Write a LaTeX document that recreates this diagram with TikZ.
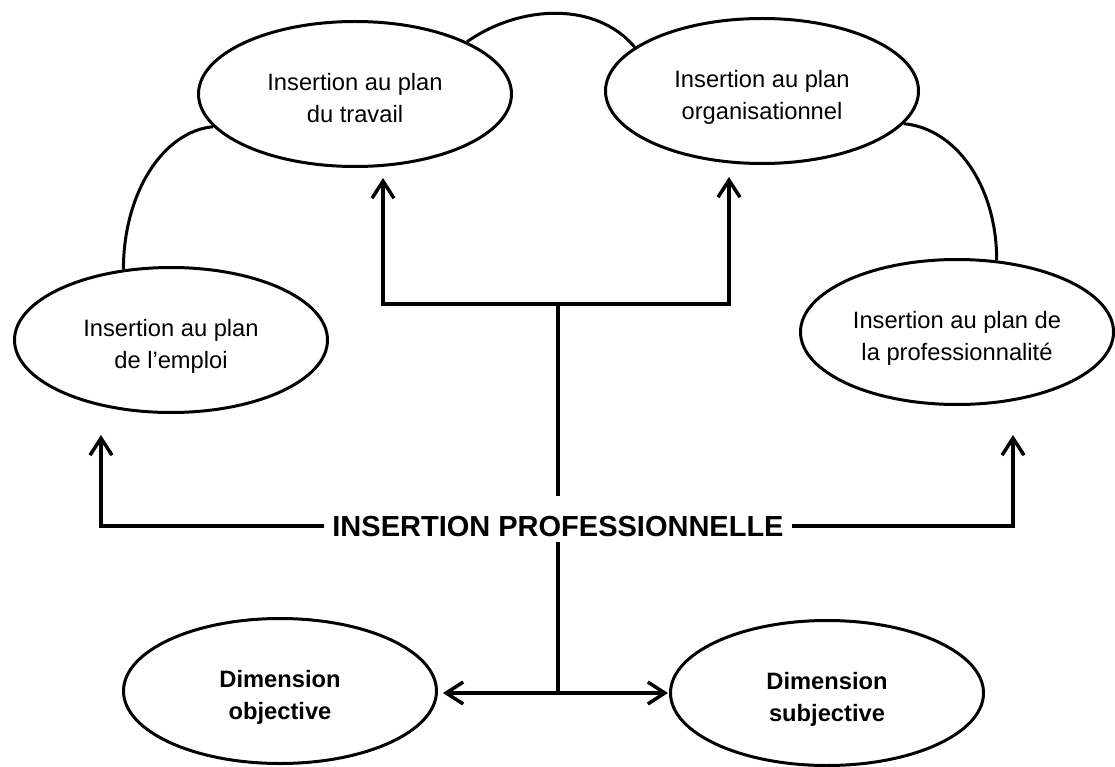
\documentclass[tikz,border=0pt]{standalone}
\usepackage{fontspec}
\setmainfont{Liberation Sans}
\usetikzlibrary{arrows.meta,shapes.geometric,calc}
\newcommand\ellTopStrut{\rule{0pt}{30pt}}
\newcommand\ellBotStrut{\rule[-5pt]{0pt}{5pt}}
\begin{document}
\begin{tikzpicture}[x=1pt,y=1pt,
  ell/.style={draw, line width=3pt, ellipse, minimum width=313pt, minimum height=145pt,
    inner sep=0pt, align=center, font=\fontsize{23.7}{32}\selectfont},
  bell/.style={ell, font=\fontsize{23.7}{32}\selectfont\bfseries},
  conn/.style={line width=3.8pt, line join=miter},
  arr/.style={conn, -{Straight Barb[length=17pt,width=22pt,line width=3.5pt]}},
  arcline/.style={line width=3pt}]
\useasboundingbox (0,0) rectangle (1115,-767);
\node[ell] (trav) at (355,-94) {\ellTopStrut Insertion au plan\\du travail\ellBotStrut};
\node[ell] (org) at (762,-91) {\ellTopStrut Insertion au plan\\organisationnel\ellBotStrut};
\node[ell] (emp) at (171,-340) {\ellTopStrut Insertion au plan\\de l’emploi\ellBotStrut};
\node[ell] (prof) at (957,-332) {\ellTopStrut Insertion au plan de\\la professionnalité\ellBotStrut};
\node[bell] (obj) at (280,-691) {\ellTopStrut Dimension\\objective\ellBotStrut};
\node[bell] (subj) at (827,-693) {\ellTopStrut Dimension\\subjective\ellBotStrut};
\node[font=\fontsize{29}{34}\selectfont\bfseries, inner xsep=8pt, inner ysep=6pt,
  text height=34pt, text depth=0pt] (main) at (558,-519) {INSERTION PROFESSIONNELLE};
% junctions and arrow tips
\coordinate (jT) at (558,-304);
\coordinate (tipT) at (383,-178);
\coordinate (tipO) at (729,-177);
\coordinate (tipE) at (101,-435);
\coordinate (tipP) at (1013,-435);
\coordinate (jB) at (558,-693);
\coordinate (tipOb) at ([xshift=5pt]obj.east |- jB);
\coordinate (tipSu) at ([xshift=-1pt]subj.west |- jB);
% connectors
\draw[arr] (main.north) -- (jT) -| (tipT);
\draw[arr] (jT) -| (tipO);
\draw[arr] ([yshift=-7pt]main.west) -| (tipE);
\draw[arr] ([yshift=-7pt]main.east) -| (tipP);
\draw[arr] (main.south) |- (tipOb);
\draw[arr] (jB) -- (tipSu);
% arcs between ellipses
\draw[arcline] (emp.124) .. controls +(90:77) and +(185:50) .. (trav.193);
\draw[arcline] (trav.25) .. controls +(35:65) and +(130:60) .. (org.161);
\draw[arcline] (org.347) .. controls +(-5:52) and +(90:75) .. (prof.61);
\end{tikzpicture}
\end{document}
